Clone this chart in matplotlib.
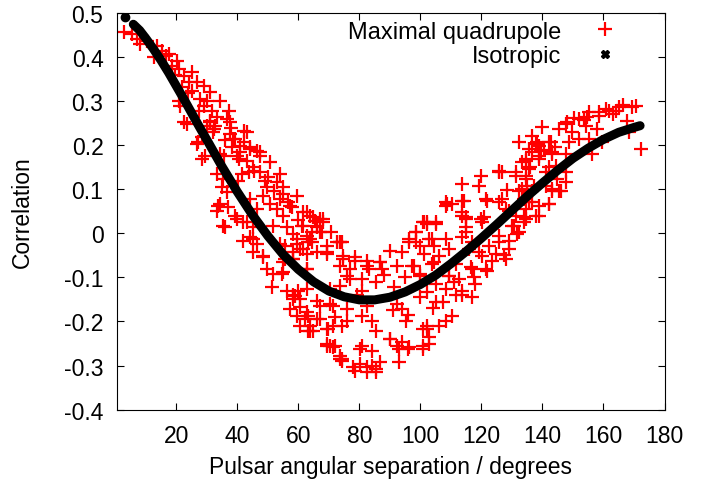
import matplotlib
matplotlib.use("Agg")
import matplotlib.pyplot as plt
from matplotlib.lines import Line2D

plt.rcParams['font.family'] = ['Liberation Sans', 'DejaVu Sans']

# Isotropic correlation
iso_x = [3.3, 5.9, 8, 10, 12.5, 15, 17.5, 20, 22.5, 25, 27.5, 30, 35, 40, 45,
         50, 55, 60, 65, 70, 75, 80, 85, 90, 95, 100, 105, 110, 115, 120, 125,
         130, 135, 140, 145, 150, 155, 160, 165, 170, 172]
iso_y = [0.490, 0.474, 0.460, 0.442, 0.418, 0.392, 0.364, 0.334, 0.304, 0.273,
         0.242, 0.212, 0.151, 0.094, 0.041, -0.006, -0.048, -0.082, -0.110,
         -0.131, -0.144, -0.151, -0.151, -0.145, -0.133, -0.116, -0.095,
         -0.069, -0.041, -0.011, 0.020, 0.052, 0.084, 0.114, 0.143, 0.170,
         0.193, 0.213, 0.229, 0.240, 0.244]

# Maximal quadrupole correlation
quad_x = [
    2.9, 5.6, 7.2, 8.2, 13.7, 15.4, 17.6, 12.7, 20.3, 18.6, 20.9, 25.2, 22.5, 24.2,
    26.8, 29.1, 21.9, 25.2, 31.0, 27.8, 30.1, 34.3, 20.9, 21.2, 29.1, 37.3, 33.3,
    36.6, 31.0, 22.5, 30.1, 32.4, 42.2, 37.6, 28.4, 39.2, 42.2, 26.8, 38.2, 44.1,
    46.4, 29.4, 35.6, 47.4,
    23.5, 31.0, 37.6, 32.0, 43.1, 27.1, 38.6, 40.8, 44.1, 47.4, 28.4, 34.3, 39.9,
    43.1, 50.7, 45.1, 33.3, 41.5, 47.4, 53.9, 35.3, 40.2, 52.9, 35.0, 49.7, 54.9,
    36.6, 44.1, 48.4, 53.9, 59.5, 34.3, 36.9, 50.7, 52.9, 57.2, 62.7, 39.2, 46.4,
    54.9, 64.7, 68.0, 35.3, 41.8, 45.1, 51.6, 56.2, 61.1, 66.0, 58.2, 62.7, 44.1,
    46.4, 53.9, 59.5, 64.4, 69.3, 72.5, 45.1, 48.4, 62.7, 66.0,
    33.7, 33.3, 35.9, 39.9, 43.1, 41.8, 45.1, 48.4, 49.7, 51.6, 51.3, 54.6, 55.6,
    58.2, 61.4, 63.7, 67.0, 62.7, 58.2, 60.5, 59.5, 62.7, 63.7, 66.0, 63.1, 69.3,
    71.2, 69.3, 71.9, 73.5, 71.2, 73.5, 75.8, 73.5, 70.3, 67.0,
    61.4, 66.0, 67.6, 63.1, 73.5, 58.2, 60.5, 69.3, 74.5, 78.4, 82.4, 86.6, 89.9,
    94.1, 98.7, 98.7, 102.0, 103.9, 104.6, 98.0, 92.2, 87.3, 83.3, 54.9, 62.7,
    73.5, 76.8, 81.0, 85.6, 94.8, 99.7, 91.5, 59.8, 62.7, 81.0, 79.1, 58.2, 66.0,
    70.3, 75.8, 82.4, 92.2, 94.1, 99.7, 105.2, 60.5, 63.1, 67.0, 71.9, 76.1, 80.7,
    84.0, 60.5, 64.7, 69.6, 74.2, 85.6, 95.4, 100.7, 102.9, 89.9, 93.1, 96.4, 70.3,
    80.7, 84.0, 74.2, 80.1, 84.0, 86.6, 93.1, 78.4, 82.4, 85.6, 73.5, 100.7, 102.0,
    132.4, 137.9, 142.8, 143.1, 134.6, 138.9, 125.8, 131.4, 119.9, 113.7, 119.3,
    134.6, 135.0, 132.4, 143.1, 141.2, 108.8, 113.7, 121.9, 126.8, 129.1, 135.6,
    138.9, 142.2, 115.0, 120.9, 134.0, 138.9, 100.7, 105.2, 115.0, 130.1, 132.4,
    96.4, 102.9, 108.5, 113.7, 125.8, 129.1, 99.7, 104.6, 109.5, 116.0, 122.5,
    124.8, 101.3, 106.2, 120.3, 97.4, 103.9, 111.8, 116.7, 121.9, 99.7, 109.5,
    117.6, 105.2, 108.5, 113.7, 102.0, 111.8,
    170.6, 165.0, 161.8, 158.5, 155.2, 152.0, 148.0, 145.4, 139.9, 167.6, 157.8,
    154.2, 149.7, 152.0, 148.7, 155.2, 159.5, 142.2, 136.6, 138.2, 135.6, 139.5,
    147.7, 143.1, 172.2, 156.2, 138.9, 134.6, 131.4, 135.6, 134.6, 142.2, 144.8,
    147.7, 133.3, 137.3, 143.1, 146.1, 142.2, 136.6, 134.6, 137.9, 130.7, 134.0,
    131.7, 164.1, 158.5, 154.6, 147.7, 144.4, 147.7, 145.4, 133.3, 126.8, 168.3,
    138.9, 136.6, 125.8, 108.5, 110.5, 114.4, 121.6, 125.8, 128.1, 113.7, 115.0,
    101.3, 119.9, 131.4, 134.6, 134.0, 136.6, 141.2,
    108.5, 102.0, 105.2, 98.7, 96.4, 86.6, 82.4, 78.4, 74.5, 74.2, 69.3, 67.0,
    63.7, 61.4, 113.7, 115.0, 117.0, 120.3, 125.8, 129.1, 128.1, 119.3, 121.6,
    117.0, 112.7, 109.5, 113.7, 117.0, 110.5, 106.2, 108.5, 102.0, 102.9, 100.7,
    89.9, 92.2, 94.1, 95.8, 85.6, 82.4, 77.8, 74.2, 80.1, 69.3, 71.2,
    56.2, 58.8, 57.2, 62.1, 63.7, 54.9, 58.2, 55.6, 59.5, 64.4, 68.0,
    10.5, 16.5, 19.5, 23.8, 27.5, 32.8, 36.0, 40.5, 43.8, 49.0, 52.0, 56.5,
    31.8, 38.0, 41.0, 45.5, 50.0, 55.0, 57.8, 60.0, 65.5, 70.8,
    77.0, 88.0, 91.0, 96.0, 104.0, 107.5, 111.0, 118.0, 123.5, 127.5,
    150.5, 153.5, 160.8, 163.0, 166.5, 169.2, 140.5, 144.0, 128.5, 136.0,
]
quad_y = [
    0.457, 0.452, 0.441, 0.430, 0.425, 0.414, 0.407, 0.400, 0.391, 0.380, 0.373,
    0.366, 0.357, 0.344, 0.344, 0.334, 0.332, 0.323, 0.321, 0.305, 0.301, 0.301,
    0.301, 0.289, 0.289, 0.278, 0.264, 0.260, 0.255, 0.253, 0.244, 0.237, 0.232,
    0.226, 0.219, 0.214, 0.207, 0.203, 0.196, 0.196, 0.187, 0.176, 0.176, 0.176,
    0.248, 0.253, 0.253, 0.230, 0.230, 0.207, 0.214, 0.198, 0.192, 0.185, 0.169,
    0.180, 0.176, 0.164, 0.162, 0.151, 0.135, 0.135, 0.139, 0.135, 0.124, 0.119,
    0.117, 0.105, 0.105, 0.105, 0.094, 0.078, 0.085, 0.078, 0.085, 0.067, 0.060,
    0.067, 0.056, 0.063, 0.049, 0.040, 0.056, 0.040, 0.038, 0.033, 0.017, 0.026,
    0.015, 0.017, 0.015, 0.017, 0.015, -0.001, -0.006, -0.008, -0.024, -0.024,
    -0.024, -0.019, -0.028, -0.019, -0.042, -0.051, -0.046, -0.042,
    0.062, 0.050, 0.015, 0.033, 0.026, -0.017, -0.012, -0.053, -0.080, -0.092,
    -0.121, -0.092, -0.058, -0.058, -0.035, -0.012, 0.003, -0.080, -0.141, -0.149,
    -0.187, -0.178, -0.210, -0.194, -0.221, -0.217, -0.210, -0.250, -0.255,
    -0.284, -0.164, -0.119, -0.096, -0.019, -0.126, -0.164,
    0.017, 0.017, 0.003, -0.019, -0.019, -0.042, -0.035, -0.046, -0.051, -0.053,
    -0.062, -0.065, -0.040, -0.042, -0.019, 0.003, 0.022, -0.012, -0.065, -0.074,
    -0.074, -0.080, -0.080, -0.087, -0.080, -0.074, -0.103, -0.103, -0.110,
    -0.098, -0.096, -0.121, -0.130, -0.126, -0.130, -0.141, -0.149, -0.153,
    -0.160, -0.171, -0.166, -0.160, -0.171, -0.144, -0.155, -0.167, -0.187,
    -0.194, -0.189, -0.198, -0.187, -0.200, -0.210, -0.221, -0.217, -0.210,
    -0.221, -0.200, -0.217, -0.235, -0.239, -0.262, -0.257, -0.255, -0.255,
    -0.266, -0.289, -0.296, -0.300, -0.291, -0.291, -0.312, -0.314, -0.314,
    -0.278, -0.255, -0.210,
    0.207, 0.203, 0.207, 0.185, 0.169, 0.176, 0.139, 0.139, 0.130, 0.112, 0.108,
    0.130, 0.108, 0.096, 0.096, 0.139, 0.067, 0.074, 0.074, 0.078, 0.051, 0.072,
    0.062, 0.067, 0.037, 0.037, 0.037, 0.040, 0.026, 0.026, 0.015, 0.017, 0.003,
    -0.012, -0.012, -0.012, -0.008, -0.006, -0.017, -0.028, -0.028, -0.035,
    -0.035, -0.028, -0.046, -0.046, -0.051, -0.051, -0.074, -0.069, -0.069,
    -0.076, -0.085, -0.092, -0.096, -0.098, -0.114, -0.126, -0.130, -0.133,
    -0.139,
    0.289, 0.287, 0.278, 0.276, 0.276, 0.260, 0.253, 0.237, 0.242, 0.255, 0.237,
    0.244, 0.230, 0.214, 0.207, 0.214, 0.207, 0.207, 0.221, 0.207, 0.192, 0.187,
    0.180, 0.180, 0.192, 0.180, 0.169, 0.164, 0.130, 0.146, 0.124, 0.151, 0.124,
    0.117, 0.101, 0.108, 0.101, 0.096, 0.067, 0.072, 0.056, 0.040, 0.017, 0.026,
    -0.001, 0.278, 0.266, 0.264, 0.248, 0.153, 0.139, 0.096, 0.162, 0.139, 0.230,
    0.198, 0.185, 0.141, 0.071, 0.067, 0.074, 0.078, 0.071, 0.056, 0.049, 0.033,
    0.026, 0.033, 0.040, 0.033, 0.078, 0.096, 0.108,
    0.062, 0.026, 0.022, 0.003, -0.019, -0.065, -0.074, -0.062, -0.058, -0.019,
    -0.042, 0.033, 0.040, 0.049, 0.040, 0.003, -0.019, 0.026, -0.019, -0.035,
    -0.058, -0.042, -0.080, -0.080, -0.103, -0.096, -0.141, -0.144, -0.187,
    -0.210, -0.198, -0.217, -0.251, -0.262, -0.239, -0.255, -0.246, -0.262,
    -0.307, -0.303, -0.303, -0.285, -0.262, -0.255, -0.257,
    -0.130, -0.142, -0.171, -0.194, -0.221, -0.065, -0.058, -0.028, -0.012,
    0.003, 0.026,
    0.436, 0.402, 0.360, 0.318, 0.278, 0.243, 0.212, 0.168, 0.140, 0.118, 0.096,
    0.072,
    0.278, 0.238, 0.184, 0.142, 0.128, 0.090, 0.060, 0.030, 0.028, 0.004,
    -0.080, -0.095, -0.175, -0.186, -0.170, -0.155, -0.110, -0.115, -0.062, -0.050,
    0.262, 0.258, 0.282, 0.271, 0.291, 0.286, 0.188, 0.196, 0.098, 0.150,
]

x_ticks = [20, 40, 60, 80, 100, 120, 140, 160, 180]
y_ticks = [-0.4, -0.3, -0.2, -0.1, 0, 0.1, 0.2, 0.3, 0.4, 0.5]
y_labels = ['-0.4', '-0.3', '-0.2', '-0.1', '0', '0.1', '0.2', '0.3', '0.4', '0.5']

fig = plt.figure(figsize=(7.04, 4.81), dpi=100)
ax = fig.add_axes([0.1666, 0.1462, 0.7773, 0.8251])

ax.plot(quad_x, quad_y, ls='none', marker='+', ms=9.5, mew=1.6, color='#ff0000')
ax.plot(iso_x[1:], iso_y[1:], color='black', lw=6.5,
        solid_capstyle='round', solid_joinstyle='round')
ax.plot(iso_x[:1], iso_y[:1], ls='none', marker='o', ms=6, color='black')

ax.set_xlim(0.65, 180)
ax.set_ylim(-0.4, 0.5)
ax.set_xticks(x_ticks)
ax.set_yticks(y_ticks)
ax.set_yticklabels(y_labels)
ax.tick_params(direction='in', top=True, right=True, length=5, width=0.8,
               labelsize=16.5, colors='black')
ax.tick_params(axis='x', pad=10)
ax.tick_params(axis='y', pad=10)

ax.set_xlabel('Pulsar angular separation / degrees', fontsize=16.5)
ax.set_ylabel('Correlation', fontsize=16.5)
ax.xaxis.set_label_coords(0.5, -0.113)
ax.yaxis.set_label_coords(-0.153, 0.5)

handles = [
    Line2D([], [], ls='none', marker='+', ms=9.5, mew=1.6, color='#ff0000'),
    Line2D([], [], ls='none', marker='X', ms=6, color='black'),
]
ax.legend(handles, ['Maximal quadrupole', 'Isotropic'], loc='upper right',
          bbox_to_anchor=(0.924, 0.98), frameon=False, markerfirst=False,
          fontsize=17, handlelength=1.5, handletextpad=1.1, labelspacing=0.1,
          borderpad=0, borderaxespad=0)

fig.savefig('out.png', dpi=100)
